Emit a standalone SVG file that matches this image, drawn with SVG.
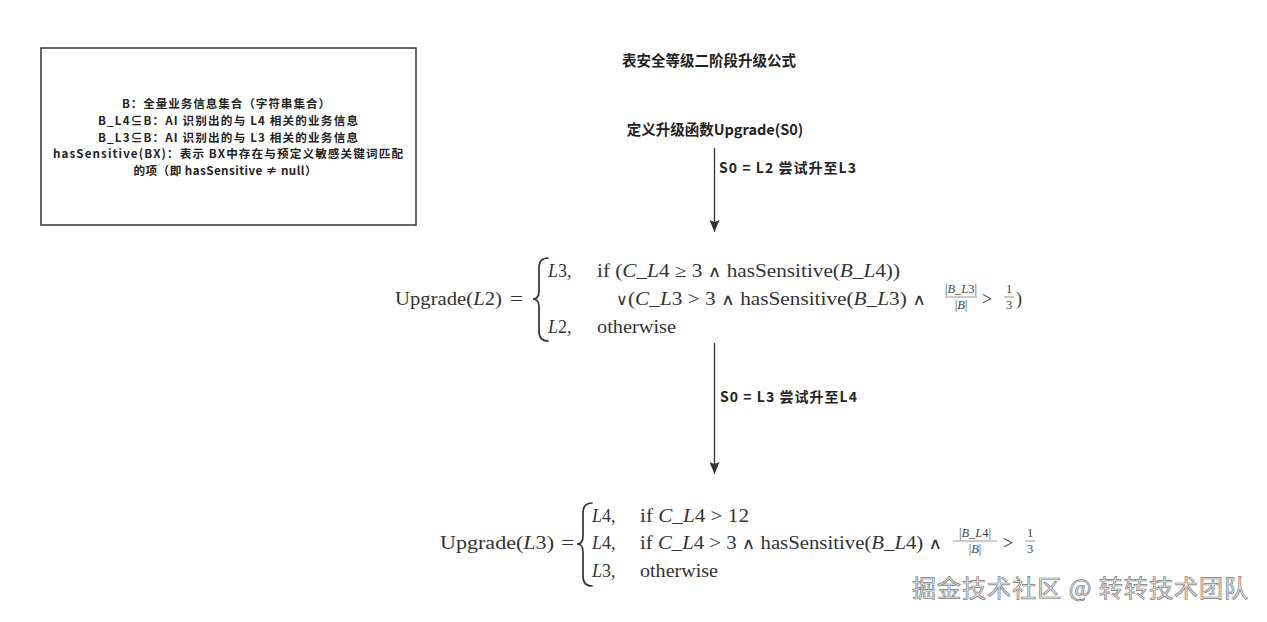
<svg xmlns="http://www.w3.org/2000/svg" width="1267" height="622" viewBox="0 0 1267 622">
<style>
.lbl{font-family:"Noto Sans CJK SC","Liberation Sans",sans-serif;font-weight:bold;fill:#222;}
.box{font-size:11.6px;}
.m{font-family:"Liberation Serif","DejaVu Serif",serif;font-size:18px;fill:#333;}
.ms{font-family:"Liberation Serif","DejaVu Serif",serif;font-size:12.5px;fill:#444;}
.op{font-family:"DejaVu Sans",sans-serif;font-size:16px;font-weight:normal;}
.i{font-style:italic;}
.brace{fill:none;stroke:#333;stroke-width:1.7;stroke-linecap:round;}
.bar{stroke:#666;stroke-width:0.7;}
.conn{stroke:#333;stroke-width:1.3;fill:none;}
.wm{font-family:"Noto Sans CJK SC",sans-serif;font-size:24px;fill:#ececec;stroke:#7a7a7a;stroke-width:0.7;}
</style>
<defs>
<marker id="ah" viewBox="0 0 12 10" refX="12" refY="5" markerWidth="12" markerHeight="10" markerUnits="userSpaceOnUse" orient="auto">
<path d="M0,0 L12,5 L0,10 L2,5 z" fill="#333"/>
</marker>
</defs>
<rect width="1267" height="622" fill="#fff"/>

<g id="definitions-box">
<rect x="41" y="48" width="375" height="177" fill="#fff" stroke="#333" stroke-width="1.5"/>
<text class="lbl box" x="226" y="108" text-anchor="middle" textLength="208" lengthAdjust="spacing">B：全量业务信息集合（字符串集合）</text>
<text class="lbl box" x="228" y="124.8" text-anchor="middle" textLength="260" lengthAdjust="spacing">B_L4⊆B：AI 识别出的与 L4 相关的业务信息</text>
<text class="lbl box" x="228" y="141.6" text-anchor="middle" textLength="260" lengthAdjust="spacing">B_L3⊆B：AI 识别出的与 L3 相关的业务信息</text>
<text class="lbl box" x="228" y="158.4" text-anchor="middle" textLength="350" lengthAdjust="spacing">hasSensitive(BX)：表示 BX中存在与预定义敏感关键词匹配</text>
<text class="lbl box" x="225" y="175.2" text-anchor="middle" textLength="183" lengthAdjust="spacing">的项（即 hasSensitive ≠ null）</text>
</g>

<g id="title">
<text class="lbl" font-size="14.5" x="709" y="66" text-anchor="middle">表安全等级二阶段升级公式</text>
</g>

<g id="define-node">
<text class="lbl" font-size="14.5" x="715" y="135" text-anchor="middle">定义升级函数Upgrade(S0)</text>
</g>

<g id="formula-l2">
<text class="m" x="395" y="305" textLength="107" lengthAdjust="spacingAndGlyphs">Upgrade(<tspan class="i">L</tspan>2)</text>
<text class="m" x="510" y="305" textLength="13" lengthAdjust="spacingAndGlyphs">=</text>
<path class="brace" d="M548,258 C542,258 539,261 539,268 L539,291 C539,296 537,299 533,299 C537,299 539,302 539,307 L539,331 C539,338 542,341 548,341"/>
<text class="m" x="548" y="277"><tspan class="i">L</tspan>3,</text>
<text class="m" x="597" y="277" textLength="303" lengthAdjust="spacingAndGlyphs">if (<tspan class="i">C</tspan>_<tspan class="i">L</tspan>4 ≥ 3 <tspan class="op">∧</tspan> hasSensitive(<tspan class="i">B</tspan>_<tspan class="i">L</tspan>4))</text>
<text class="m op" x="616" y="305">∨</text>
<text class="m" x="628" y="305" textLength="298" lengthAdjust="spacingAndGlyphs">(<tspan class="i">C</tspan>_<tspan class="i">L</tspan>3 &gt; 3 <tspan class="op">∧</tspan> hasSensitive(<tspan class="i">B</tspan>_<tspan class="i">L</tspan>3) <tspan class="op">∧</tspan></text>
<text class="ms" x="961" y="293" text-anchor="middle">|<tspan class="i">B</tspan>_<tspan class="i">L</tspan>3|</text>
<line class="bar" x1="945" y1="297" x2="977" y2="297"/>
<text class="ms" x="961" y="309" text-anchor="middle">|<tspan class="i">B</tspan>|</text>
<text class="m" x="982" y="305">&gt;</text>
<text class="ms" x="1009" y="293" text-anchor="middle">1</text>
<line class="bar" x1="1004" y1="297" x2="1014" y2="297"/>
<text class="ms" x="1009" y="309" text-anchor="middle">3</text>
<text class="m" x="1016" y="305">)</text>
<text class="m" x="548" y="333"><tspan class="i">L</tspan>2,</text>
<text class="m" x="597" y="333" textLength="79" lengthAdjust="spacingAndGlyphs">otherwise</text>
</g>

<g id="formula-l3">
<text class="m" x="440" y="549" textLength="114" lengthAdjust="spacingAndGlyphs">Upgrade(<tspan class="i">L</tspan>3)</text>
<text class="m" x="561" y="549" textLength="13" lengthAdjust="spacingAndGlyphs">=</text>
<path class="brace" d="M592,503 C586,503 583,506 583,513 L583,536 C583,541 581,544 577,544 C581,544 583,547 583,552 L583,576 C583,583 586,586 592,586"/>
<text class="m" x="592" y="522"><tspan class="i">L</tspan>4,</text>
<text class="m" x="640" y="522" textLength="109" lengthAdjust="spacingAndGlyphs">if <tspan class="i">C</tspan>_<tspan class="i">L</tspan>4 &gt; 12</text>
<text class="m" x="592" y="549"><tspan class="i">L</tspan>4,</text>
<text class="m" x="640" y="549" textLength="302" lengthAdjust="spacingAndGlyphs">if <tspan class="i">C</tspan>_<tspan class="i">L</tspan>4 &gt; 3 <tspan class="op">∧</tspan> hasSensitive(<tspan class="i">B</tspan>_<tspan class="i">L</tspan>4) <tspan class="op">∧</tspan></text>
<text class="ms" x="975" y="537" text-anchor="middle">|<tspan class="i">B</tspan>_<tspan class="i">L</tspan>4|</text>
<line class="bar" x1="953" y1="541" x2="997" y2="541"/>
<text class="ms" x="975" y="553" text-anchor="middle">|<tspan class="i">B</tspan>|</text>
<text class="m" x="1003" y="549">&gt;</text>
<text class="ms" x="1030" y="537" text-anchor="middle">1</text>
<line class="bar" x1="1025" y1="541" x2="1035" y2="541"/>
<text class="ms" x="1030" y="553" text-anchor="middle">3</text>
<text class="m" x="592" y="577"><tspan class="i">L</tspan>3,</text>
<text class="m" x="640" y="577" textLength="78" lengthAdjust="spacingAndGlyphs">otherwise</text>
</g>

<g id="connectors">
<line class="conn" x1="714.5" y1="148" x2="714.5" y2="232" marker-end="url(#ah)"/>
<text class="lbl" font-size="14" x="719" y="173" textLength="137" lengthAdjust="spacing">S0 = L2 尝试升至L3</text>
<line class="conn" x1="714.5" y1="343" x2="714.5" y2="474" marker-end="url(#ah)"/>
<text class="lbl" font-size="14" x="720" y="402" textLength="137" lengthAdjust="spacing">S0 = L3 尝试升至L4</text>
</g>

<g id="watermark">
<text class="wm" x="912" y="597" textLength="336" lengthAdjust="spacing">掘金技术社区 @ 转转技术团队</text>
</g>
</svg>
